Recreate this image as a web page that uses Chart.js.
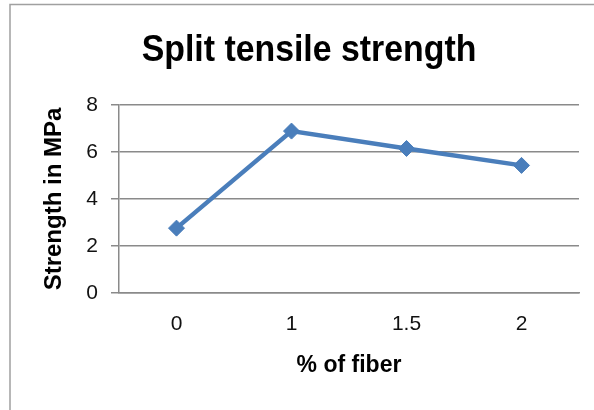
<!DOCTYPE html>
<html>
<head>
<meta charset="utf-8">
<script src="https://cdn.jsdelivr.net/npm/chart.js@4/dist/chart.umd.min.js"></script>
<style>
  html, body { margin: 0; padding: 0; background: #fff; }
  #wrap { position: relative; width: 594px; height: 410px; }
</style>
</head>
<body>
<div id="wrap"><canvas id="c" width="594" height="410"></canvas></div>
<script>
const chartTitle = "Split tensile strength";
const xAxisTitle = "% of fiber";
const yAxisTitle = "Strength in MPa";
const categories = ["0", "1", "1.5", "2"];
const strengthValues = [2.76, 6.89, 6.15, 5.43];
const yTickMin = 0;
const yTickMax = 8;
const yTickStep = 2;

const frameAndTitle = {
  id: 'frameAndTitle',
  beforeDraw(chart) {
    const ctx = chart.ctx;
    ctx.save();
    ctx.fillStyle = '#ffffff';
    ctx.fillRect(0, 0, chart.width, chart.height);
    ctx.strokeStyle = '#a0a0a0';
    ctx.lineWidth = 1.5;
    ctx.strokeRect(10, 4.5, 800, 600);
    ctx.restore();
  },
  afterDraw(chart) {
    const ctx = chart.ctx;
    ctx.save();
    ctx.font = 'bold 36px "Liberation Sans", Arial, sans-serif';
    ctx.fillStyle = '#000';
    ctx.textAlign = 'center';
    ctx.textBaseline = 'alphabetic';
    ctx.translate(309, 61);
    ctx.scale(0.94, 1);
    ctx.fillText(chartTitle, 0, 0);
    ctx.restore();
  }
};

new Chart(document.getElementById('c'), {
  type: 'line',
  data: {
    labels: categories,
    datasets: [{
      data: strengthValues,
      borderColor: '#4a7ebb',
      backgroundColor: '#4a7ebb',
      borderWidth: 4.5,
      pointStyle: 'rectRot',
      pointRadius: 8,
      pointBorderWidth: 1,
      pointBackgroundColor: '#4a7ebb',
      pointBorderColor: '#4a7ebb',
      tension: 0,
      fill: false
    }]
  },
  options: {
    responsive: false,
    animation: false,
    devicePixelRatio: 1,
    layout: { padding: { top: 105, right: 15, left: 0, bottom: 0 } },
    plugins: {
      legend: { display: false },
      title: { display: false },
      tooltip: { enabled: false }
    },
    scales: {
      x: {
        type: 'category',
        offset: true,
        grid: { display: false, drawTicks: false },
        border: { display: true, color: '#8a8a8a', width: 1.5 },
        ticks: {
          color: '#111',
          padding: 19,
          font: { family: '"Liberation Sans", Arial, sans-serif', size: 21 }
        },
        title: {
          display: true,
          text: xAxisTitle,
          color: '#000',
          font: { family: '"Liberation Sans", Arial, sans-serif', size: 23, weight: 'bold' },
          padding: { top: 0, bottom: 31 }
        },
        afterFit(scale) { scale.height = 117; }
      },
      y: {
        min: yTickMin,
        max: yTickMax,
        ticks: {
          stepSize: yTickStep,
          color: '#111',
          padding: 13,
          font: { family: '"Liberation Sans", Arial, sans-serif', size: 21 }
        },
        grid: { color: '#8a8a8a', lineWidth: 1.5, tickLength: 8, drawTicks: true },
        border: { display: true, color: '#8a8a8a', width: 1.5 },
        title: {
          display: true,
          text: yAxisTitle,
          color: '#000',
          font: { family: '"Liberation Sans", Arial, sans-serif', size: 24, weight: 'bold' },
          padding: { top: 40, bottom: 0 }
        },
        afterFit(scale) { scale.width = 119; }
      }
    }
  },
  plugins: [frameAndTitle]
});
</script>
</body>
</html>
